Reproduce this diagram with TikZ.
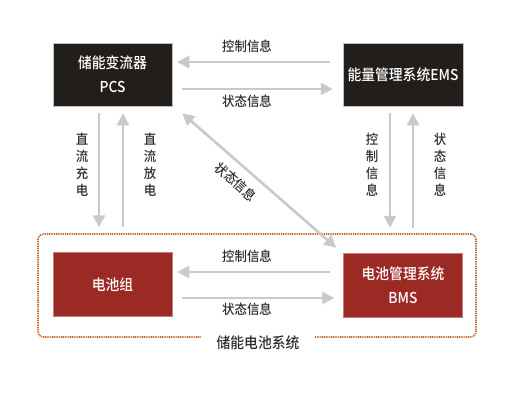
\documentclass[tikz,border=0pt]{standalone}
\usepackage{fontspec}
\IfFontExistsTF{Noto Sans CJK SC Medium}
  {\setmainfont{Noto Sans CJK SC Medium}[FakeStretch=0.92]}
  {\setmainfont{Noto Sans CJK SC}[FakeStretch=0.92]}
\usetikzlibrary{arrows.meta,calc}
\definecolor{boxblack}{HTML}{221E1B}
\definecolor{boxred}{HTML}{9C2A24}
\definecolor{arrgray}{HTML}{C9C9C9}
\definecolor{frameor}{HTML}{C4692B}
\definecolor{txtgray}{HTML}{2E2E2E}
\begin{document}
\begin{tikzpicture}[x=1pt,y=-1pt,
  blkbox/.style={fill=boxblack, draw=gray!50, line width=0.5pt, minimum width=119pt, minimum height=63pt, text=white, font=\fontsize{15}{24}\selectfont, align=center, inner sep=0pt},
  redbox/.style={blkbox, fill=boxred, draw=boxred!60},
  arr/.style={draw=arrgray, line width=2.6pt, -{Triangle[length=12pt,width=12pt]}},
  darr/.style={draw=arrgray, line width=2.6pt, {Triangle[length=12pt,width=12pt]}-{Triangle[length=12pt,width=12pt]}},
  lbl/.style={text=txtgray, font=\fontsize{13.5}{16}\selectfont, inner sep=0pt},
  vlbl/.style={lbl, align=center, font=\fontsize{13.5}{17}\selectfont}]
\useasboundingbox (0,0) rectangle (518,400);
% frame
\node[draw=frameor, line width=1.6pt, dash pattern=on 1pt off 0.8pt, rounded corners=5pt, minimum width=438pt, minimum height=103pt, inner sep=0pt] (frame) at (257,285.5) {};
\node[fill=white, text=txtgray, font=\fontsize{15}{16}\selectfont, inner xsep=16pt, inner ysep=3pt] (framelbl) at (258,343) {储能电池系统};
% boxes
\node[blkbox] (PCS) at (112.5,74.5) {储能变流器\\PCS};
\node[blkbox, minimum width=120pt] (EMS) at (403,74.5) {能量管理系统EMS};
\node[redbox, minimum height=64pt] (BAT) at (112.5,284.5) {电池组};
\node[redbox, minimum height=64pt] (BMS) at (403,285) {电池管理系统\\BMS};
% top horizontal
\draw[arr] ($(EMS.west)+(-13,-12.5)$) -- ($(PCS.east)+(5,-12.5)$);
\draw[arr] ($(PCS.east)+(10,14.5)$) -- ($(EMS.west)+(-10,14.5)$);
\node[lbl] (t1) at (247,46) {控制信息};
\node[lbl] (t2) at (247,101) {状态信息};
% bottom horizontal
\draw[arr] ($(BMS.west)+(-13,-13)$) -- ($(BAT.east)+(5,-12.5)$);
\draw[arr] ($(BAT.east)+(10,13.5)$) -- ($(BMS.west)+(-9,13)$);
\node[lbl] (b1) at (247,256) {控制信息};
\node[lbl] (b2) at (247,309) {状态信息};
% left vertical
\draw[arr] ($(PCS.south)+(-13.5,7)$) -- ($(BAT.north)+(-13.5,-25)$);
\draw[arr] ($(BAT.north)+(10.5,-25)$) -- ($(PCS.south)+(10.5,7)$);
\node[vlbl] (l1) at (82,165) {直\\流\\充\\电};
\node[vlbl] (l2) at (150,165) {直\\流\\放\\电};
% right vertical
\draw[arr] ($(EMS.south)+(-13,7)$) -- ($(BMS.north)+(-13,-25)$);
\draw[arr] ($(BMS.north)+(10,-25)$) -- ($(EMS.south)+(10,7)$);
\node[vlbl] (r1) at (372,165) {控\\制\\信\\息};
\node[vlbl] (r2) at (440,165) {状\\态\\信\\息};
% diagonal
\draw[darr] ($(PCS.south east)+(10,7)$) -- ($(BMS.north west)+(-7,-5)$);
\node[lbl, rotate=-41] (d1) at (236,182) {状态信息};
\end{tikzpicture}
\end{document}
